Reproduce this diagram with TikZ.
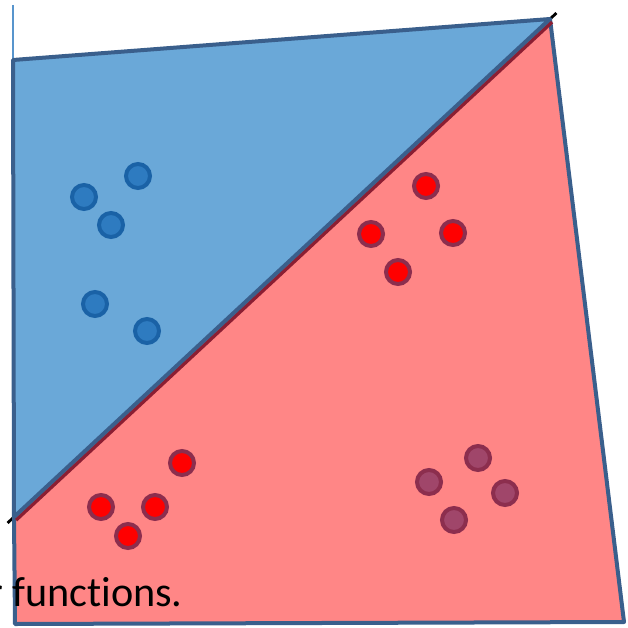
\documentclass[tikz,border=0pt]{standalone}
\usepackage{fontspec}
\setmainfont{Carlito}[Ligatures=NoCommon]
\usepackage{xcolor}
\usepackage{tikz}
\usetikzlibrary{positioning, calc}
\definecolor{RgBlue}{RGB}{106,168,216}
\definecolor{RgRed}{RGB}{255,134,134}
\definecolor{RgEdge}{RGB}{58,95,140}
\definecolor{RgWine}{RGB}{140,30,50}
\definecolor{DotBlue}{RGB}{46,123,192}
\definecolor{DotBlueRim}{RGB}{26,98,166}
\definecolor{DotRed}{RGB}{255,0,0}
\definecolor{DotRedRim}{RGB}{140,46,78}
\definecolor{DotPlum}{RGB}{160,70,106}

\begin{document}
\begin{tikzpicture}[x=0.025cm, y=-0.025cm,
          dt/.style={circle, minimum size=0.6cm, inner sep=0pt,
                     line width=0.1cm},
          rg/.style={line width=0.1cm, draw=RgEdge, line join=round}
        ]
        \useasboundingbox (0,0) rectangle (627,628);

        % corners of the two regions
        \coordinate (TL) at (13,60);
        \coordinate (TR) at (550,19);
        \coordinate (ML) at (14,517);
        \coordinate (BL) at (15,624);
        \coordinate (BR) at (624,622);

        % thin axis stub
        \draw[line width=0.05cm, DotBlue!80] (13,5) -- (TL);

        % separating line behind the regions
        \draw[line width=0.07cm, black] ($(ML)!-0.012!(TR)$) -- ($(ML)!1.012!(TR)$);

        % red region (lower right)
        \fill[RgRed] (TR) -- (ML) -- (BL) -- (BR) -- cycle;
        \draw[rg] (ML) -- (BL) -- (BR) -- (TR);
        \draw[line width=0.09cm, RgWine] ($(ML)+(2,3)$) -- ($(TR)+(2,3)$);

        % blue region (upper left)
        \draw[rg, fill=RgBlue] (TL) -- (TR) -- (ML) -- cycle;

        % blue class
        \foreach \i/\x/\y in {
          b1/138/176, b2/84/197, b3/111/225, b4/95/304, b5/147/331} {
          \node[dt, fill=DotBlue, draw=DotBlueRim] (\i) at (\x, \y) {};
        }

        % red class
        \foreach \i/\x/\y in {
          r1/426/186, r2/371/234, r3/453/233, r4/398/272,
          r5/182/463, r6/101/507, r7/155/507, r8/128/536} {
          \node[dt, fill=DotRed, draw=DotRedRim] (\i) at (\x, \y) {};
        }

        % misplaced class
        \foreach \i/\x/\y in {
          p1/478/458, p2/429/482, p3/505/493, p4/454/520} {
          \node[dt, fill=DotPlum, draw=DotRedRim] (\i) at (\x, \y) {};
        }

        \node[anchor=base east, inner sep=0pt, font=\fontsize{30}{34}\selectfont]
              (cap) at (183,606) {r functions.};
      \end{tikzpicture}
\end{document}
